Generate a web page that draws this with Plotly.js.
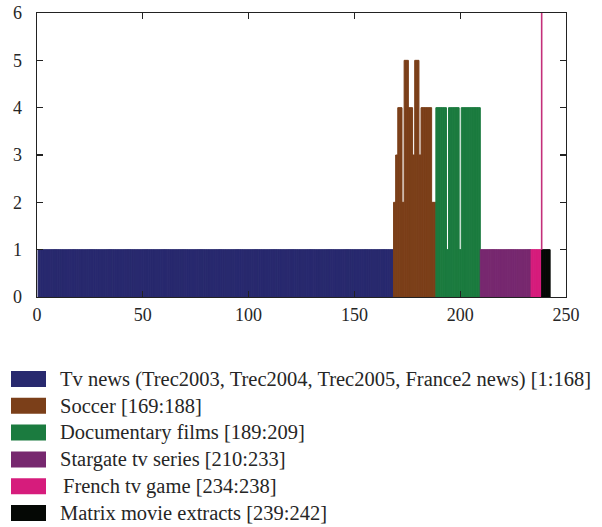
<!DOCTYPE html>
<html>
<head>
<meta charset="utf-8">
<script src="https://cdn.plot.ly/plotly-3.0.1.min.js"></script>
<style>html,body{margin:0;padding:0;background:#fff}#chart{width:602px;height:527px}</style>
</head>
<body>
<div id="chart"></div>
<script>
// ---- data ----
var categoryNames = [
  "Tv news (Trec2003, Trec2004, Trec2005, France2 news) [1:168]",
  "Soccer [169:188]",
  "Documentary films [189:209]",
  "Stargate tv series [210:233]",
  "French tv game [234:238]",
  "Matrix movie extracts [239:242]"
];
var categoryStart = [1, 169, 189, 210, 234, 239];
var categoryColors = ["#28296e", "#7b3f19", "#1b7b3f", "#77286f", "#d61c7c", "#050805"];

var tvNewsValues = [
  1,1,1,1,1,1,1,1,1,1,1,1,1,1,1,1,1,1,1,1,1,1,1,1,1,1,1,1,1,1,1,1,1,1,1,1,1,1,1,1,
  1,1,1,1,1,1,1,1,1,1,1,1,1,1,1,1,1,1,1,1,1,1,1,1,1,1,1,1,1,1,1,1,1,1,1,1,1,1,1,1,
  1,1,1,1,1,1,1,1,1,1,1,1,1,1,1,1,1,1,1,1,1,1,1,1,1,1,1,1,1,1,1,1,1,1,1,1,1,1,1,1,
  1,1,1,1,1,1,1,1,1,1,1,1,1,1,1,1,1,1,1,1,1,1,1,1,1,1,1,1,1,1,1,1,1,1,1,1,1,1,1,1,
  1,1,1,1,1,1,1,1
];
var soccerValues = [2,3,4,4,2,5,5,4,4,3,5,5,3,4,4,4,4,4,2,2];
var documentaryValues = [4,4,4,4,4,1,4,4,4,4,4,1,4,4,4,4,4,4,4,4,4];
var stargateValues = [1,1,1,1,1,1,1,1,1,1,1,1,1,1,1,1,1,1,1,1,1,1,1,1];
var frenchGameValues = [1,1,1,1,1];
var matrixValues = [1,1,1,1];
var seriesValues = [tvNewsValues, soccerValues, documentaryValues, stargateValues, frenchGameValues, matrixValues];

// French tv game peak that leaves the chart (thin line)
var frenchPeakX = [238.5, 238.5];
var frenchPeakY = [1, 7];

var xTickVals = [0, 50, 100, 150, 200, 250];
var yTickVals = [0, 1, 2, 3, 4, 5, 6];

// ---- traces ----
var traces = [];
for (var c = 0; c < categoryNames.length; c++) {
  var xs = [];
  for (var k = 0; k < seriesValues[c].length; k++) xs.push(categoryStart[c] + k);
  traces.push({
    type: "bar", x: xs, y: seriesValues[c], width: 1, name: categoryNames[c],
    marker: {color: categoryColors[c], line: {color: categoryColors[c], width: 1}},
    showlegend: false, hoverinfo: "x+y"
  });
}
traces.push({
  type: "scatter", mode: "lines", x: frenchPeakX, y: frenchPeakY, showlegend: false,
  line: {color: "#c4307a", width: 1.6}, cliponaxis: true
});

// ---- legend built as shapes + annotations ----
var fontFam = "Liberation Serif, Times New Roman, serif";
var shapes = [], annotations = [];
var plotTop = 13, plotBottom = 297, plotLeft = 37, plotRight = 566;
var ph = plotBottom - plotTop, pw = plotRight - plotLeft;
function py(px) { return (plotBottom - px) / ph; }
function pxX(px) { return (px - plotLeft) / pw; }
for (var i = 0; i < categoryNames.length; i++) {
  var cy = 379 + i * 26.8;
  shapes.push({type: "rect", xref: "paper", yref: "paper",
    x0: pxX(11), x1: pxX(46), y0: py(cy + 8), y1: py(cy - 8),
    fillcolor: categoryColors[i], line: {width: 0}});
  annotations.push({xref: "paper", yref: "paper", x: pxX(i === 4 ? 61 : 58), y: py(cy),
    xanchor: "left", yanchor: "middle", showarrow: false, text: categoryNames[i],
    font: {family: fontFam, size: 20.5, color: "#262626"}});
}

var axisCommon = {
  showgrid: false, zeroline: false, showline: true, linecolor: "#222", linewidth: 1.3,
  mirror: "ticks", ticks: "inside", ticklen: 6, tickwidth: 1.2, tickcolor: "#222",
  tickfont: {family: fontFam, size: 18, color: "#262626"}, fixedrange: true
};

var layout = {
  width: 602, height: 527,
  margin: {l: plotLeft, r: 602 - plotRight, t: plotTop, b: 527 - plotBottom, pad: 0},
  paper_bgcolor: "#fff", plot_bgcolor: "#fff",
  bargap: 0, barmode: "overlay", showlegend: false,
  xaxis: Object.assign({}, axisCommon, {range: [0, 250], tickvals: xTickVals, ticklabelstandoff: 1}),
  yaxis: Object.assign({}, axisCommon, {range: [0, 6], tickvals: yTickVals, ticklabelstandoff: 10}),
  shapes: shapes, annotations: annotations
};

Plotly.newPlot("chart", traces, layout, {displayModeBar: false, staticPlot: true});
</script>
</body>
</html>
